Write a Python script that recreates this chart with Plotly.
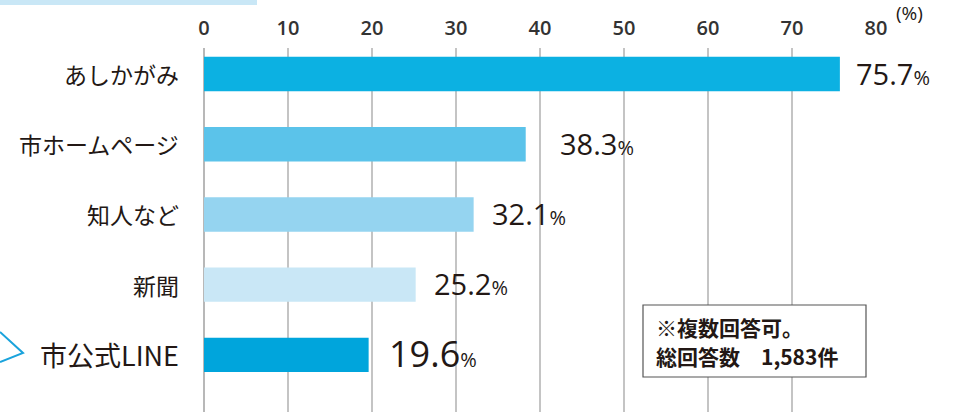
import plotly.graph_objects as go

categories = ["あしかがみ", "市ホームページ", "知人など", "新聞", "市公式LINE"]
values = [75.7, 38.3, 32.1, 25.2, 19.6]
bar_colors = ["#0cb1e2", "#5bc3ea", "#95d4f0", "#c9e7f6", "#00a5dc"]
x_ticks = [0, 10, 20, 30, 40, 50, 60, 70, 80]
note_lines = ["※複数回答可。", "総回答数　1,583件"]
unit_label = "(%)"

W, H = 957, 412
L, R, T, B = 204, 81, 48, 0
pw = W - L - R
ph = H - T - B

def px(xp):
    return (xp - L) / pw

def py(yp):
    return 1 - (yp - T) / ph

font_family = "Open Sans, Noto Sans CJK JP, sans-serif"
jp_font = "Noto Sans CJK JP, sans-serif"

fig = go.Figure()
fig.add_trace(go.Bar(
    x=values, y=categories, orientation="h",
    marker=dict(color=bar_colors, line=dict(width=0)),
    width=0.49, hoverinfo="skip",
))

yr_top = -(74 - T) / 70
yr_bot = len(categories) - 1 + (H - 355) / 70

fig.update_layout(
    width=W, height=H,
    margin=dict(l=L, r=R, t=T, b=B, pad=0),
    paper_bgcolor="white", plot_bgcolor="white",
    showlegend=False,
    xaxis=dict(
        range=[0, 80], side="top", tickvals=x_ticks,
        showgrid=True, gridcolor="#c4c4c4", gridwidth=1.5,
        zeroline=True, zerolinecolor="#b8b8b8", zerolinewidth=1.5,
        showline=False, ticks="", ticklabelstandoff=8,
        tickfont=dict(family=font_family, size=20, color="#333333", weight=600),
        fixedrange=True,
    ),
    yaxis=dict(
        type="category", categoryorder="array", categoryarray=categories,
        range=[yr_bot, yr_top], showticklabels=False, showgrid=False,
        zeroline=False, showline=False, fixedrange=True,
    ),
)

for i, c in enumerate(categories):
    last = (i == len(categories) - 1)
    fig.add_annotation(
        x=0, y=c, xref="x", yref="y", xanchor="right", yanchor="middle",
        xshift=-23, text=c, showarrow=False,
        font=dict(family=jp_font, size=27 if last else 23,
                  color="#231815", weight=400),
    )

shifts = [14, 32, 16, 16, 18]
for i, (c, v) in enumerate(zip(categories, values)):
    last = (i == len(categories) - 1)
    big = 36 if last else 29
    fig.add_annotation(
        x=v, y=c, xref="x", yref="y", xanchor="left", yanchor="middle",
        xshift=shifts[i], yshift=1, showarrow=False,
        text=f"<span style='font-size:{big}px'>{v:.1f}</span><span style='font-size:20px'>%</span>",
        font=dict(family="Open Sans, sans-serif", size=big, color="#231815", weight=400),
    )

fig.add_annotation(x=px(909), y=py(13), xref="paper", yref="paper",
                   text=unit_label, showarrow=False, xanchor="center", yanchor="middle",
                   font=dict(family=font_family, size=19, color="#231815"))

fig.add_shape(type="rect", xref="paper", yref="paper",
              x0=px(643), x1=px(866), y0=py(377), y1=py(305),
              line=dict(color="#555555", width=1.2), fillcolor="white", layer="above")
for j, ln in enumerate(note_lines):
    fig.add_annotation(x=px(654), y=py(327 + j * 29), xref="paper", yref="paper",
                       text=ln, showarrow=False, xanchor="left", yanchor="middle",
                       font=dict(family=jp_font, size=21, color="#231815", weight=700))

fig.add_shape(type="rect", xref="paper", yref="paper",
              x0=px(0), x1=px(257), y0=py(5), y1=py(0),
              line=dict(width=0), fillcolor="#c9e7f6", layer="above")
fig.add_shape(type="path", xref="paper", yref="paper",
              path=f"M {px(0)} {py(332)} L {px(23)} {py(353)} L {px(0)} {py(362)}",
              line=dict(color="#1aa3dc", width=2), layer="above")

fig.write_html("out.html", config={"displayModeBar": False},
               post_script="document.body.style.margin='0';")
